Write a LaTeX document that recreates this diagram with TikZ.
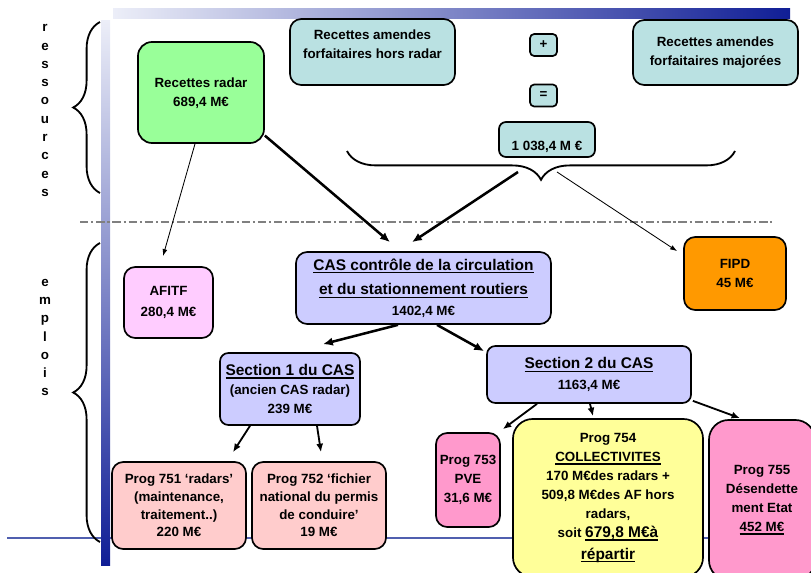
\documentclass[tikz,border=0pt]{standalone}
\usepackage{fontspec}
\setmainfont{Liberation Sans}
\usepackage{tikz}
\usetikzlibrary{calc,arrows.meta,decorations.pathreplacing}

\newsavebox{\soulbox}
\newcommand{\souligne}[1]{\sbox{\soulbox}{#1}%
  \rlap{\rule[-2.2pt]{\wd\soulbox}{0.9pt}}\usebox{\soulbox}}
\newcommand{\grand}[1]{{\fontsize{11}{15}\selectfont #1}}

\definecolor{vertradar}{RGB}{153,255,153}
\definecolor{turquoise}{RGB}{186,225,226}
\definecolor{lilas}{RGB}{204,204,255}
\definecolor{orange}{RGB}{255,153,0}
\definecolor{rosepale}{RGB}{255,204,255}
\definecolor{saumon}{RGB}{255,204,204}
\definecolor{rosevif}{RGB}{255,153,204}
\definecolor{jaune}{RGB}{255,255,153}
\definecolor{bleuclair}{RGB}{236,238,248}
\definecolor{bleufonce}{RGB}{16,30,150}
\definecolor{bleutrait}{RGB}{80,95,175}

\begin{document}
\begin{tikzpicture}[
  x=0.025cm, y=-0.025cm,
  font=\fontsize{9.5}{13.5}\selectfont\bfseries,
  box/.style={draw,line width=1.2pt,rounded corners=8pt,align=center,inner sep=1pt},
  lettres/.style={align=center,font=\fontsize{9.5}{13}\selectfont\bfseries,inner sep=0pt},
  accol/.style={decorate,line width=1.3pt},
  lien/.style ={-{Latex[length=7pt,width=6pt]},line width=1.8pt},
  lienm/.style={-{Latex[length=6pt,width=5pt]},line width=1.3pt},
  fin/.style  ={-{Latex[length=5pt,width=3.5pt]},line width=0.6pt}
]
% ---- fond ----
\useasboundingbox (0,0) rectangle (811,573);
\clip (0,0) rectangle (811,573);
\shade[left color=bleuclair,right color=bleufonce] (113,8) rectangle (790,18);
\draw[line width=1.4pt,bleutrait] (7,538) -- (811,538);
\shade[top color=bleuclair,bottom color=bleufonce] (101,20) rectangle (110,565);
\draw[line width=0.9pt,gray,dash pattern=on 6pt off 2pt on 1.5pt off 2pt]
  (80,222) -- (772,222);
% ---- ressources / emplois ----
\node[lettres] (ress) at (45,110.5) {r\\e\\s\\s\\o\\u\\r\\c\\e\\s};
\node[lettres] (empl) at (45,337.5) {e\\m\\p\\l\\o\\i\\s};
\draw[accol,decoration={brace,amplitude=0.67cm}] (100,193) -- (100,22);
\draw[accol,decoration={brace,amplitude=0.67cm}] (100,542) -- (100,243);
\draw[accol,decoration={brace,amplitude=0.72cm}] (735,151) -- (347,151);
\coordinate (pointe) at (541,180);
% ---- recettes ----
\node[box,fill=vertradar,minimum width=3.15cm,minimum height=2.525cm,
      rounded corners=10pt,text depth=-2pt] (radar) at (201,92.5) {Recettes radar\\689,4 M€};
\node[box,fill=turquoise,minimum width=4.125cm,minimum height=1.65cm] (horsradar)
  at (372.5,52) {};
\node[align=center,inner sep=0pt] (horsradartxt) at (372.5,44)
  {Recettes amendes\\forfaitaires hors radar};
\node[box,fill=turquoise,minimum width=0.675cm,minimum height=0.55cm,
      rounded corners=3pt] (plus) at (543.5,45) {+};
\node[box,fill=turquoise,minimum width=0.675cm,minimum height=0.55cm,
      rounded corners=3pt] (egal) at (543.5,95.5) {=};
\node[box,fill=turquoise,minimum width=4.125cm,minimum height=1.625cm] (majorees)
  at (715.5,52.5) {Recettes amendes\\forfaitaires majorées};
\node[box,fill=turquoise,minimum width=2.4cm,minimum height=0.875cm,
      rounded corners=5pt] (somme) at (547,139.5) {};
\node[inner sep=0pt] (sommetxt) at (547,147) {1 038,4 M €};
% ---- emplois ----
\node[box,fill=rosepale,minimum width=2.225cm,minimum height=1.775cm,
      font=\fontsize{9.5}{15.5}\selectfont\bfseries] (afitf) at (168.5,302.5)
  {AFITF\\280,4 M€};
\node[box,fill=lilas,minimum width=6.375cm,minimum height=1.8cm] (cas) at (423.5,288)
  {{\fontsize{11}{16}\selectfont\souligne{CAS contrôle de la circulation}}\\[4pt]
   {\fontsize{11}{16}\selectfont\souligne{et du stationnement routiers}}\\[1pt]1402,4 M€};
\node[box,fill=orange,minimum width=2.55cm,minimum height=1.825cm] (fipd)
  at (735,273.5) {FIPD\\45 M€};
\node[box,fill=lilas,minimum width=3.5cm,minimum height=1.8cm,rounded corners=6pt]
  (sec1) at (290,389) {\grand{\souligne{Section 1 du CAS}}\\(ancien CAS radar)\\239 M€};
\node[box,fill=lilas,minimum width=5.1cm,minimum height=1.425cm,rounded corners=6pt]
  (sec2) at (589,374.5) {\grand{\souligne{Section 2 du CAS}}\\[1pt]1163,4 M€};
% ---- programmes ----
\node[box,fill=saumon,minimum width=3.35cm,minimum height=2.175cm,
      font=\fontsize{9.5}{12.5}\selectfont\bfseries] (p751) at (179,505.5)
  {Prog 751 ‘radars’\\(maintenance,\\traitement..)\\220 M€};
\node[box,fill=saumon,minimum width=3.35cm,minimum height=2.175cm,
      font=\fontsize{9.5}{12.5}\selectfont\bfseries] (p752) at (319,505.5)
  {Prog 752 ‘fichier\\national du permis\\de conduire’\\19 M€};
\node[box,fill=rosevif,minimum width=1.6cm,minimum height=2.35cm] (p753)
  at (468,480) {Prog 753\\PVE\\31,6 M€};
\node[box,fill=jaune,minimum width=4.75cm,minimum height=3.95cm,rounded corners=14pt]
  (p754) at (608,498)
  {Prog 754\\\souligne{COLLECTIVITES}\\170 M€des radars +\\509,8 M€des AF hors\\radars,\\
   soit \grand{\souligne{679,8 M€à}}\\[2pt]\grand{\souligne{répartir}}};
\node[box,fill=rosevif,minimum width=2.65cm,minimum height=4cm,rounded corners=14pt]
  (p755) at (762,500) {Prog 755\\Désendette\\ment Etat\\\souligne{452 M€}};
% ---- fleches ----
\draw[lien] (radar.-34) -- ($(cas.north)+(-33.5,-9)$);
\draw[lien] ($(pointe)+(-23,-8)$) -- ($(cas.north)+(-11.5,-9)$);
\draw[fin]  ($(radar.south)+(-6,0)$) -- ($(afitf.north)+(-5.5,-10)$);
\draw[fin]  ($(pointe)+(16,-8)$) -- ($(fipd.north west)+(-6,15)$);
\draw[lien] ($(cas.south)+(-25.5,0)$) -- ($(sec1.north)+(33,-8)$);
\draw[lien] ($(cas.south)+(13.5,0)$) -- ($(sec2.north west)+(-2,6)$);
\draw[lienm] ($(sec1.south)+(-40,0)$) -- ($(p751.north)+(54,-9)$);
\draw[lienm] ($(sec1.south)+(27,0)$) -- ($(p752.north)+(2,-9)$);
\draw[lienm] ($(sec2.south)+(-52,0)$) -- ($(p753.north east)+(2,-3)$);
\draw[lienm] ($(sec2.south)+(1,0)$) -- ($(p754.north)+(-15,-2)$);
\draw[lienm] ($(sec2.south east)+(1,-3)$) -- ($(p755.north)+(-22,-1)$);
\end{tikzpicture}
\end{document}
